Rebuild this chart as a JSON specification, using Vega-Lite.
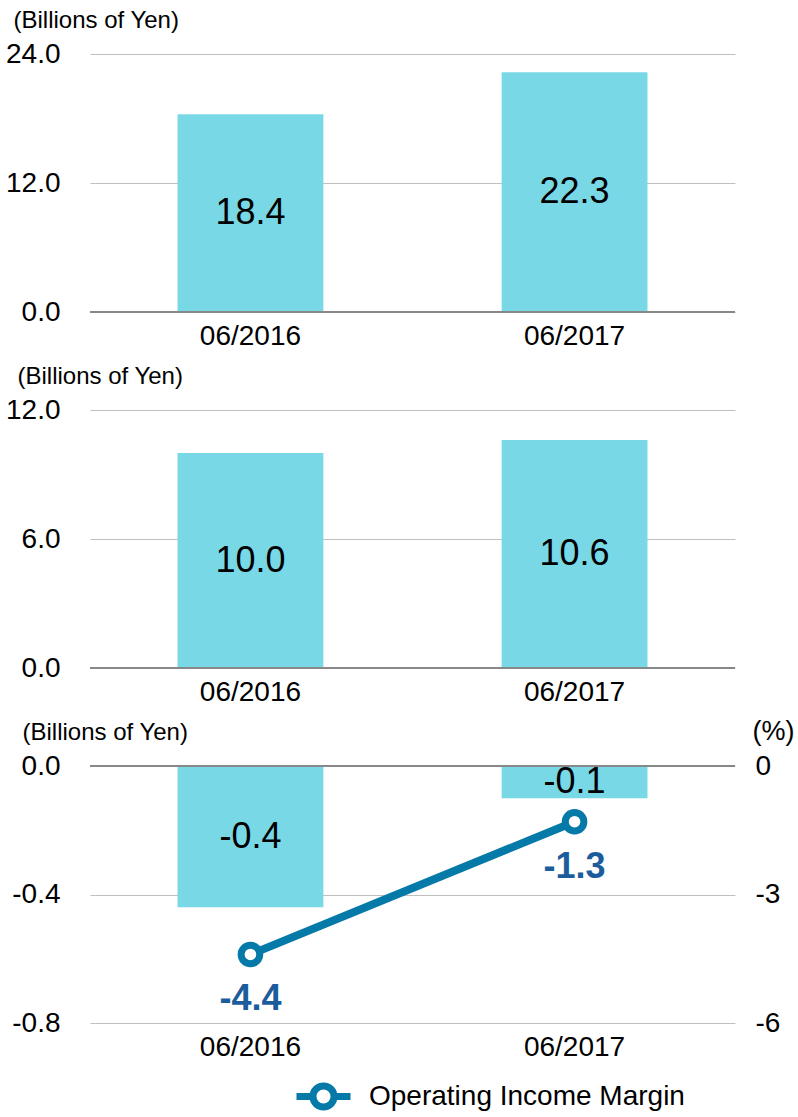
{
  "$schema": "https://vega.github.io/schema/vega-lite/v6.json",
  "background": "white",
  "padding": {"left": 5, "top": 8, "right": 3, "bottom": 4},
  "datasets": {
    "p1": [
      {"period": "06/2016", "value": 18.4, "label": "18.4"},
      {"period": "06/2017", "value": 22.3, "label": "22.3"}
    ],
    "p2": [
      {"period": "06/2016", "value": 10.0, "label": "10.0"},
      {"period": "06/2017", "value": 10.6, "label": "10.6"}
    ],
    "p3": [
      {"period": "06/2016", "value": -0.44, "label": "-0.4", "margin": -4.4, "mlabel": "-4.4"},
      {"period": "06/2017", "value": -0.1, "label": "-0.1", "margin": -1.3, "mlabel": "-1.3"}
    ],
    "zero": [{"z": 0}]
  },
  "bounds": "flush",
  "spacing": 98,
  "vconcat": [
    {
      "width": 645,
      "height": 258,
      "data": {"name": "p1"},
      "layer": [
        {
          "mark": {"type": "bar", "color": "#78D8E6"},
          "encoding": {
            "x": {"field": "period", "type": "nominal", "title": null, "scale": {"paddingInner": 0.55, "paddingOuter": 0.27}},
            "y": {"field": "value", "type": "quantitative", "scale": {"domain": [0, 24], "nice": false},
              "axis": {"title": "(Billions of Yen)", "titleAngle": 0, "titleAlign": "left", "titleBaseline": "alphabetic", "titleX": -77, "titleY": -27, "values": [0, 12, 24], "labelExpr": "replace(format(datum.value, '.1f'), '\u2212', '-')"}}
          }
        },
        {
          "data": {"name": "zero"},
          "mark": {"type": "rule", "color": "#888888", "strokeWidth": 2},
          "encoding": {"y": {"field": "z", "type": "quantitative", "scale": {"domain": [0, 24], "nice": false}, "axis": null}}
        },
        {
          "mark": {"type": "text", "fontSize": 36, "color": "#000000", "baseline": "middle"},
          "encoding": {
            "x": {"field": "period", "type": "nominal", "title": null},
            "y": {"field": "value", "type": "quantitative", "scale": {"domain": [0, 48], "nice": false}, "axis": null},
            "text": {"field": "label"}
          }
        }
      ],
      "resolve": {"scale": {"y": "independent"}}
    },
    {
      "width": 645,
      "height": 258,
      "data": {"name": "p2"},
      "layer": [
        {
          "mark": {"type": "bar", "color": "#78D8E6"},
          "encoding": {
            "x": {"field": "period", "type": "nominal", "title": null, "scale": {"paddingInner": 0.55, "paddingOuter": 0.27}},
            "y": {"field": "value", "type": "quantitative", "scale": {"domain": [0, 12], "nice": false},
              "axis": {"title": "(Billions of Yen)", "titleAngle": 0, "titleAlign": "left", "titleBaseline": "alphabetic", "titleX": -73, "titleY": -27, "values": [0, 6, 12], "labelExpr": "replace(format(datum.value, '.1f'), '\u2212', '-')"}}
          }
        },
        {
          "data": {"name": "zero"},
          "mark": {"type": "rule", "color": "#888888", "strokeWidth": 2},
          "encoding": {"y": {"field": "z", "type": "quantitative", "scale": {"domain": [0, 12], "nice": false}, "axis": null}}
        },
        {
          "mark": {"type": "text", "fontSize": 36, "color": "#000000", "baseline": "middle"},
          "encoding": {
            "x": {"field": "period", "type": "nominal", "title": null},
            "y": {"field": "value", "type": "quantitative", "scale": {"domain": [0, 24], "nice": false}, "axis": null},
            "text": {"field": "label"}
          }
        }
      ],
      "resolve": {"scale": {"y": "independent"}}
    },
    {
      "width": 645,
      "height": 257,
      "data": {"name": "p3"},
      "layer": [
        {
          "mark": {"type": "bar", "color": "#78D8E6"},
          "encoding": {
            "x": {"field": "period", "type": "nominal", "title": null, "scale": {"paddingInner": 0.55, "paddingOuter": 0.27}},
            "y": {"field": "value", "type": "quantitative", "scale": {"domain": [-0.8, 0], "nice": false, "zero": false},
              "axis": {"orient": "left", "title": "(Billions of Yen)", "titleAngle": 0, "titleAlign": "left", "titleBaseline": "alphabetic", "titleX": -68, "titleY": -27, "values": [0, -0.4, -0.8], "labelExpr": "replace(format(datum.value, '.1f'), '\u2212', '-')"}}
          }
        },
        {
          "data": {"name": "zero"},
          "mark": {"type": "rule", "color": "#888888", "strokeWidth": 2},
          "encoding": {"y": {"field": "z", "type": "quantitative", "scale": {"domain": [-0.8, 0], "nice": false, "zero": false}, "axis": null}}
        },
        {
          "mark": {"type": "text", "fontSize": 36, "color": "#000000", "baseline": "middle"},
          "encoding": {
            "x": {"field": "period", "type": "nominal", "title": null},
            "y": {"field": "value", "type": "quantitative", "scale": {"domain": [-1.6, 0], "nice": false, "zero": false}, "axis": null},
            "text": {"field": "label"}
          }
        },
        {
          "mark": {"type": "line", "strokeWidth": 8},
          "encoding": {
            "x": {"field": "period", "type": "nominal", "title": null},
            "y": {"field": "margin", "type": "quantitative", "scale": {"domain": [-6, 0], "nice": false, "zero": false},
              "axis": {"orient": "right", "grid": false, "title": "(%)", "titleFontSize": 27, "titleAngle": 0, "titleAlign": "left", "titleBaseline": "alphabetic", "titleX": 17, "titleY": -27, "labelPadding": 20, "values": [0, -3, -6], "labelExpr": "replace(format(datum.value, 'd'), '\u2212', '-')"}},
            "color": {"datum": "Operating Income Margin", "type": "nominal", "scale": {"range": ["#0579A8"]},
              "legend": {"orient": "none", "legendX": 203, "legendY": 1012, "title": null, "symbolType": "M-1,0H-0.39M0.39,0H1M-0.39,0A0.39,0.39,0,1,0,0.39,0A0.39,0.39,0,1,0,-0.39,0Z", "symbolSize": 2916, "symbolStrokeWidth": 7, "symbolFillColor": "white", "labelFontSize": 28, "labelOffset": 15, "labelLimit": 500, "labelColor": "#000000", "labelFont": "Liberation Sans"}}
          }
        },
        {
          "mark": {"type": "point", "shape": "circle", "filled": true, "fill": "white", "stroke": "#0579A8", "strokeWidth": 7, "size": 346, "opacity": 1},
          "encoding": {
            "x": {"field": "period", "type": "nominal", "title": null},
            "y": {"field": "margin", "type": "quantitative", "scale": {"domain": [-6, 0], "nice": false, "zero": false}, "axis": null}
          }
        },
        {
          "mark": {"type": "text", "fontSize": 36, "fontWeight": "bold", "color": "#1B5C9C", "baseline": "middle", "dy": 45},
          "encoding": {
            "x": {"field": "period", "type": "nominal", "title": null},
            "y": {"field": "margin", "type": "quantitative", "scale": {"domain": [-6, 0], "nice": false, "zero": false}, "axis": null},
            "text": {"field": "mlabel"}
          }
        }
      ],
      "resolve": {"scale": {"y": "independent"}}
    }
  ],
  "config": {
    "font": "Liberation Sans",
    "view": {"stroke": null},
    "axis": {
      "labelFont": "Liberation Sans",
      "labelFontSize": 28,
      "labelColor": "#000000",
      "ticks": false,
      "domain": false,
      "titleFont": "Liberation Sans",
      "titleFontSize": 24,
      "titleFontWeight": "normal",
      "titleColor": "#000000",
      "gridColor": "#BFBFBF",
      "gridWidth": 1.2
    },
    "axisX": {"grid": false, "labelPadding": 10, "labelAngle": 0},
    "axisY": {"labelPadding": 30}
  }
}
